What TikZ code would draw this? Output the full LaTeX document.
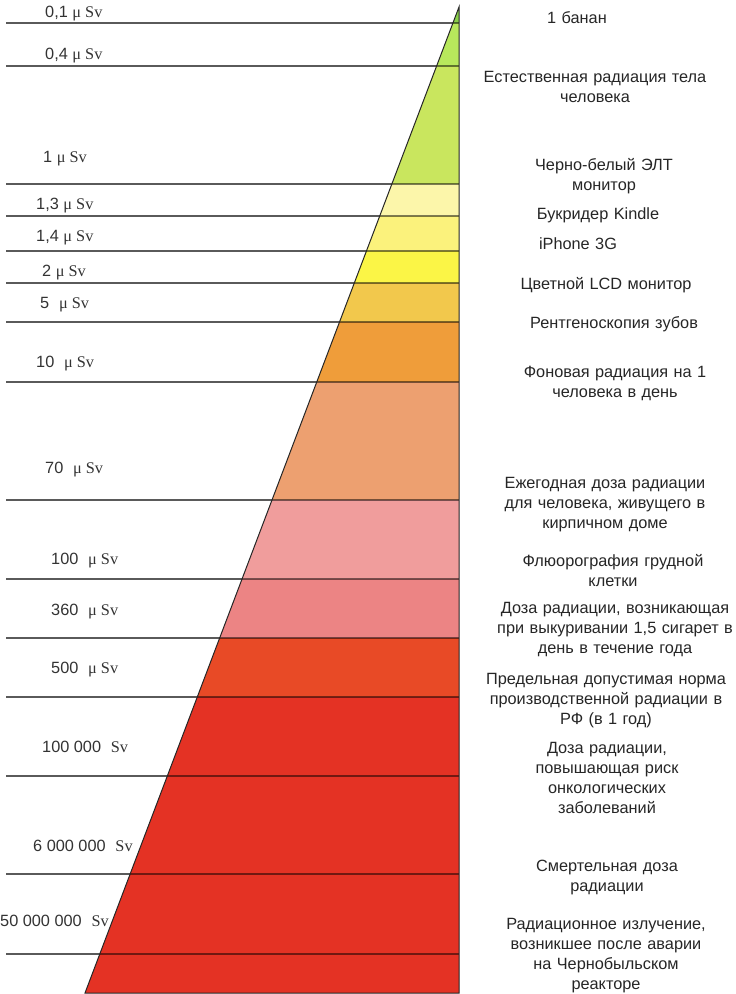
\documentclass[tikz,border=0pt]{standalone}
\usepackage{fontspec}
\setmainfont{Liberation Sans}
\newfontfamily\unitfont{Liberation Serif}
\definecolor{b01}{HTML}{8AD04A}
\definecolor{b02}{HTML}{B8E85C}
\definecolor{b03}{HTML}{C9E65E}
\definecolor{b04}{HTML}{FCF6AA}
\definecolor{b05}{HTML}{FBF27C}
\definecolor{b06}{HTML}{FBF546}
\definecolor{b07}{HTML}{F2C84C}
\definecolor{b08}{HTML}{EF9D3A}
\definecolor{b09}{HTML}{EDA070}
\definecolor{b10}{HTML}{F09D9C}
\definecolor{b11}{HTML}{EC8484}
\definecolor{b12}{HTML}{E84A26}
\definecolor{b13}{HTML}{E43224}
\definecolor{rulegray}{HTML}{5A5A5A}
\newcommand{\mysv}{{\unitfont μ Sv}}
\newcommand{\mysvonly}{{\unitfont Sv}}
\begin{document}
\begin{tikzpicture}[x=1pt,y=-1pt,
  leftrule/.style={draw=rulegray,line width=1.2pt},
  innerrule/.style={draw=black,line width=1.1pt,opacity=0.5},
  edge/.style={draw=black!85,line width=1pt,line join=miter},
  dose/.style={font=\fontsize{16.3}{19}\selectfont,anchor=base west,inner sep=0pt,text=black!80},
  desc/.style={font=\fontsize{16.3}{20.3}\selectfont,anchor=base,inner sep=0pt,text width=280pt,align=center,text=black!85}]
\useasboundingbox (0,0) rectangle (736,994);
\coordinate (apex) at (459,7);
\coordinate (bl) at (85,993);
\coordinate (br) at (459,993);
% coloured bands
\begin{scope}
\clip (apex) -- (bl) -- (br) -- cycle;
\foreach \ya/\yb/\c in {0/23/b01,23/66/b02,66/184/b03,184/216/b04,216/251/b05,251/283/b06,283/322/b07,322/382/b08,382/500/b09,500/579/b10,579/638/b11,638/697/b12,697/995/b13}
  \fill[\c] (0,\ya) rectangle (460,\yb);
\end{scope}
% horizontal rules
\foreach \y [count=\i] in {23,66,184,216,251,283,322,382,500,579,638,697,776,874,954}{
  \pgfmathsetmacro\xl{459-0.37931*(\y-7)}
  \coordinate (s\i) at (6,\y);
  \coordinate (m\i) at (\xl,\y);
  \coordinate (e\i) at (459,\y);
  \draw[leftrule] (s\i) -- (m\i);
  \draw[innerrule] (m\i) -- (e\i);
}
\draw[edge] (apex) -- (bl) -- (br) -- cycle;
% dose labels
\node[dose] (l1) at (45,17.8) {0,1 \mysv};
\node[dose] (l2) at (45,59.8) {0,4 \mysv};
\node[dose] (l3) at (43,162.8) {1 \mysv};
\node[dose] (l4) at (36,209.8) {1,3 \mysv};
\node[dose] (l5) at (36,241.8) {1,4 \mysv};
\node[dose] (l6) at (42,276.8) {2 \mysv};
\node[dose] (l7) at (40,308.8) {5\hspace{0.6em}\mysv};
\node[dose] (l8) at (36,367.8) {10\hspace{0.6em}\mysv};
\node[dose] (l9) at (45,473.8) {70\hspace{0.6em}\mysv};
\node[dose] (l10) at (51,564.8) {100\hspace{0.6em}\mysv};
\node[dose] (l11) at (51,615.8) {360\hspace{0.6em}\mysv};
\node[dose] (l12) at (51,673.8) {500\hspace{0.6em}\mysv};
\node[dose] (l13) at (42,752.8) {100 000\hspace{0.6em}\mysvonly};
\node[dose] (l14) at (33,851.8) {6 000 000\hspace{0.6em}\mysvonly};
\node[dose] (l15) at (0,926.8) {50 000 000\hspace{0.6em}\mysvonly};
% descriptions
\node[desc] (r1) at (577,23) {1 банан};
\node[desc] (r2) at (595,82) {Естественная радиация тела\\человека};
\node[desc] (r3) at (604,170) {Черно-белый ЭЛТ\\монитор};
\node[desc] (r4) at (598,219) {Букридер Kindle};
\node[desc] (r5) at (578,249) {iPhone 3G};
\node[desc] (r6) at (606,289) {Цветной LCD монитор};
\node[desc] (r7) at (614,328) {Рентгеноскопия зубов};
\node[desc] (r8) at (615,377) {Фоновая радиация на 1\\человека в день};
\node[desc] (r9) at (605,488) {Ежегодная доза радиации\\для человека, живущего в\\кирпичном доме};
\node[desc] (r10) at (613,566) {Флюорография грудной\\клетки};
\node[desc] (r11) at (615,613) {Доза радиации, возникающая\\при выкуривании 1,5 сигарет в\\день в течение года};
\node[desc] (r12) at (606,684) {Предельная допустимая норма\\производственной радиации в\\РФ (в 1 год)};
\node[desc] (r13) at (607,753) {Доза радиации,\\повышающая риск\\онкологических\\заболеваний};
\node[desc] (r14) at (607,871) {Смертельная доза\\радиации};
\node[desc] (r15) at (606,929) {Радиационное излучение,\\возникшее после аварии\\на Чернобыльском\\реакторе};
\end{tikzpicture}
\end{document}
